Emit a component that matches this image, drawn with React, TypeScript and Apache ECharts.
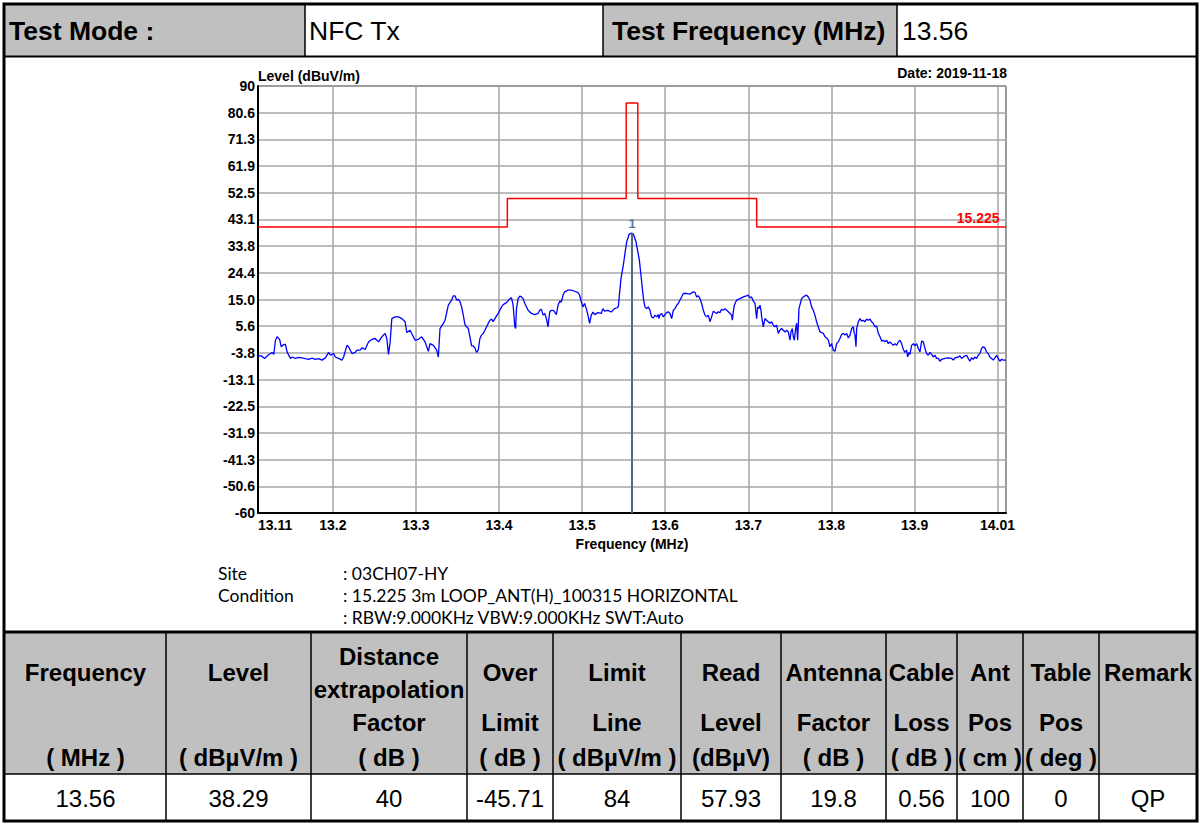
import React, { useEffect, useRef } from "react";
import * as echarts from "echarts";

// ---------- data ----------
const testModeLabel = "Test Mode :";
const testMode = "NFC Tx";
const testFreqLabel = "Test Frequency (MHz)";
const testFrequency = "13.56";
const chartDate = "Date: 2019-11-18";
const yAxisTitle = "Level (dBuV/m)";
const xAxisTitle = "Frequency (MHz)";
const limitName = "15.225";

const yTickValues = [-60, -50.625, -41.25, -31.875, -22.5, -13.125, -3.75, 5.625, 15, 24.375, 33.75, 43.125, 52.5, 61.875, 71.25, 80.625, 90];
const yTickLabels = ["-60", "-50.6", "-41.3", "-31.9", "-22.5", "-13.1", "-3.8", "5.6", "15.0", "24.4", "33.8", "43.1", "52.5", "61.9", "71.3", "80.6", "90"];
const xTickValues = [13.11, 13.2, 13.3, 13.4, 13.5, 13.6, 13.7, 13.8, 13.9, 14.0, 14.01];
const xLabelValues = [13.11, 13.2, 13.3, 13.4, 13.5, 13.6, 13.7, 13.8, 13.9, 14.01];

const limitFreqs = [13.11, 13.41, 13.41, 13.553, 13.553, 13.567, 13.567, 13.71, 13.71, 14.01];
const limitLevels = [40.5, 40.5, 50.5, 50.5, 84, 84, 50.5, 50.5, 40.5, 40.5];

const peakFreq = 13.56;
const peakLevel = 38.29;
const peakName = "1";

const trace: [number, number][] = [
  [13.110, -4.8], [13.114, -4.8], [13.118, -5.7], [13.122, -4.6], [13.127, -3.6], [13.129, -4.3], [13.131, 0.7], [13.133, 1.9],
  [13.136, 1.0], [13.138, -1.6], [13.141, -0.8], [13.143, -0.8], [13.145, -3.4], [13.149, -5.7], [13.151, -5.2], [13.155, -5.7],
  [13.159, -5.3], [13.163, -5.5], [13.167, -5.8], [13.171, -6.0], [13.175, -5.6], [13.179, -6.0], [13.183, -5.8], [13.187, -6.3],
  [13.191, -5.5], [13.195, -3.6], [13.197, -4.6], [13.201, -4.0], [13.203, -5.2], [13.207, -5.7], [13.211, -6.3], [13.213, -5.2],
  [13.217, -1.1], [13.219, -1.6], [13.223, -4.0], [13.227, -3.6], [13.229, -2.8], [13.233, -2.8], [13.235, -2.0], [13.239, -2.5],
  [13.243, 0.1], [13.247, 1.0], [13.251, 1.3], [13.255, 0.1], [13.259, 1.9], [13.263, 3.1], [13.265, 1.3], [13.267, -4.3],
  [13.269, 0.1], [13.271, 8.3], [13.275, 8.9], [13.279, 8.9], [13.283, 8.3], [13.287, 7.2], [13.289, 3.4], [13.293, 4.2],
  [13.299, 0.7], [13.303, 1.0], [13.307, 1.9], [13.311, 0.1], [13.315, -3.2], [13.317, -0.5], [13.321, -1.1], [13.325, -2.8],
  [13.327, -5.2], [13.329, 4.8], [13.333, 6.6], [13.335, 7.7],
  [13.339, 13.0], [13.343, 14.8], [13.345, 16.3], [13.347, 16.3], [13.349, 14.8], [13.351, 15.1], [13.353, 14.2], [13.355, 12.4],
  [13.357, 9.5], [13.359, 6.2], [13.361, 5.4], [13.363, 4.8], [13.365, 1.9], [13.367, -1.3], [13.369, -1.3], [13.371, -2.0],
  [13.373, -3.6], [13.375, -2.8], [13.377, 1.3], [13.379, 2.5], [13.381, 3.1], [13.383, 4.2], [13.387, 6.6], [13.389, 7.7],
  [13.391, 8.1], [13.393, 7.2], [13.395, 8.3], [13.399, 10.1], [13.403, 12.4], [13.405, 13.2], [13.409, 13.9], [13.413, 15.3],
  [13.415, 15.6], [13.417, 13.0], [13.419, 5.4], [13.420, 4.8], [13.421, 11.8], [13.423, 15.3], [13.425, 16.2], [13.427, 15.9],
  [13.429, 15.3], [13.431, 13.6], [13.435, 11.2], [13.439, 10.1], [13.443, 9.7], [13.447, 10.1], [13.449, 11.2], [13.451, 11.6],
  [13.453, 9.5], [13.455, 10.1], [13.457, 8.3], [13.459, 5.4], [13.460, 8.3], [13.461, 10.6], [13.463, 11.2], [13.465, 11.2],
  [13.467, 10.6], [13.469, 9.7], [13.471, 13.0], [13.473, 14.4], [13.475, 14.2], [13.477, 16.5], [13.479, 17.7], [13.483, 18.3],
  [13.487, 18.3], [13.491, 17.9], [13.495, 17.4], [13.497, 16.5], [13.499, 14.2], [13.501, 12.4], [13.503, 13.6], [13.505, 11.8],
  [13.507, 9.5], [13.509, 6.6], [13.511, 9.5], [13.513, 10.6], [13.515, 9.7], [13.519, 10.4], [13.523, 10.1], [13.525, 11.8],
  [13.527, 10.9], [13.531, 11.2], [13.535, 10.6], [13.539, 11.8], [13.542, 12.1], [13.5435, 12.4], [13.5456, 18.9], [13.5468, 22.4],
  [13.5495, 27.0], [13.5536, 35.3], [13.5567, 38.0], [13.56, 38.29], [13.5616, 38.0], [13.5648, 35.3], [13.5688, 28.9], [13.571, 23.0],
  [13.5724, 18.9], [13.574, 14.8], [13.5756, 12.4],
  [13.5776, 11.8], [13.5796, 12.4], [13.5816, 11.2], [13.5836, 8.9], [13.5857, 8.5], [13.5877, 9.5], [13.5897, 8.9], [13.5917, 9.7],
  [13.5925, 8.3], [13.5937, 9.7], [13.5957, 10.1], [13.5977, 8.9], [13.5997, 9.7], [13.6017, 10.4], [13.6037, 10.7], [13.6057, 10.1],
  [13.6077, 8.3], [13.6097, 11.2], [13.6117, 11.8], [13.6137, 13.0], [13.6157, 13.6], [13.6177, 14.8], [13.6197, 15.9], [13.6217, 17.1],
  [13.6258, 17.1], [13.6298, 16.9], [13.6338, 17.7], [13.6358, 17.5], [13.6378, 15.9], [13.6398, 16.3], [13.6418, 15.3], [13.6438, 13.6],
  [13.6458, 11.2], [13.6478, 9.5], [13.6498, 8.9], [13.6518, 9.5], [13.6538, 7.2], [13.6558, 8.9], [13.6578, 10.9], [13.6618, 10.1],
  [13.6638, 10.7], [13.6658, 10.4], [13.6678, 11.6], [13.6699, 11.2], [13.6719, 11.8], [13.6739, 11.2], [13.6759, 10.7], [13.6779, 10.1],
  [13.6799, 9.5], [13.6807, 7.7], [13.6819, 10.7], [13.6831, 13.0], [13.6859, 14.8], [13.6899, 15.3], [13.6939, 15.9], [13.6979, 16.3],
  [13.6999, 16.5], [13.7019, 15.6], [13.7039, 15.9], [13.706, 14.4], [13.708, 13.6], [13.71, 8.3], [13.7112, 12.4], [13.7128, 11.8],
  [13.714, 13.0], [13.7152, 11.2], [13.716, 8.9], [13.718, 5.4], [13.72, 8.3], [13.722, 7.7], [13.724, 7.2], [13.726, 6.6],
  [13.728, 7.2], [13.73, 6.0], [13.732, 5.4], [13.734, 6.0], [13.736, 3.1], [13.738, 4.2], [13.74, 4.8], [13.742, 4.2],
  [13.7441, 3.6], [13.7461, 4.2], [13.7481, 3.6], [13.7501, 0.7], [13.7513, 3.6], [13.7529, 4.8], [13.7541, 1.9], [13.7553, 0.7],
  [13.7569, 4.8], [13.7581, 6.6], [13.7593, 0.7], [13.7609, 11.8], [13.7641, 15.3], [13.7661, 15.9], [13.7681, 16.3], [13.7701, 16.5],
  [13.7721, 15.9], [13.7741, 14.8], [13.7761, 12.4], [13.7781, 11.2], [13.7801, 9.5], [13.7821, 7.2], [13.7841, 5.4], [13.7862, 3.6],
  [13.7882, 3.4], [13.7902, 3.1], [13.7922, 1.9],
  [13.7942, 1.5], [13.7962, 0.7], [13.7982, -1.6], [13.8002, -0.5], [13.8022, -2.8], [13.8042, -3.2], [13.8062, -0.5], [13.8082, 0.1],
  [13.8102, 1.3], [13.8122, 2.7], [13.8143, 3.1], [13.8163, 2.5], [13.8183, 3.1], [13.8203, 1.5], [13.8223, 2.5], [13.8243, 4.8],
  [13.8263, 5.4], [13.8275, 3.1], [13.8283, 2.5], [13.8295, -1.6], [13.8303, 4.8], [13.8323, 7.2], [13.8343, 8.3], [13.8363, 7.4],
  [13.8383, 7.7], [13.8403, 7.2], [13.8423, 8.1], [13.8443, 7.7], [13.8463, 8.1], [13.8483, 7.2], [13.8503, 6.6], [13.8523, 5.4],
  [13.8543, 5.7], [13.8564, 3.1], [13.8584, 1.9], [13.8604, 0.4], [13.8624, 0.7], [13.8644, 0.1], [13.8664, 0.7], [13.8684, -0.5],
  [13.8704, 0.1], [13.8724, -0.5], [13.8744, -1.1], [13.8764, -0.5], [13.8784, -1.1], [13.8804, 0.1], [13.8824, 0.7], [13.8844, -0.5],
  [13.8864, -2.5], [13.8884, -3.6], [13.8904, -2.8], [13.8916, -5.2], [13.8932, -3.6], [13.8944, -4.3], [13.8965, -1.1], [13.8985, -0.5],
  [13.9005, -1.3], [13.9025, -0.5], [13.9045, -2.2], [13.9065, -3.4], [13.9085, 0.4], [13.9105, 0.1], [13.9125, -2.2], [13.9145, -4.0],
  [13.9165, -4.6], [13.9185, -3.6], [13.9205, -4.3], [13.9225, -5.2], [13.9245, -4.6], [13.9265, -5.7], [13.9285, -5.7], [13.9305, -6.7],
  [13.9325, -6.0], [13.9366, -5.7], [13.9406, -5.5], [13.9446, -5.7], [13.9466, -6.3], [13.9486, -5.5], [13.9526, -5.2], [13.9546, -4.8],
  [13.9566, -5.7], [13.9586, -5.2], [13.9606, -4.8], [13.9626, -4.6], [13.9646, -5.7], [13.9666, -6.7], [13.9686, -5.5], [13.9706, -6.0],
  [13.9726, -5.2], [13.9746, -5.7], [13.9766, -4.6], [13.9786, -4.0], [13.9806, -2.2], [13.9826, -1.6], [13.9846, -2.0], [13.9866, -3.4],
  [13.9886, -4.0], [13.9906, -5.2], [13.9927, -5.7], [13.9947, -6.3], [13.9967, -5.5], [13.9987, -4.6], [14.0007, -5.7], [14.0027, -6.7],
  [14.0047, -6.0], [14.0067, -6.3], [14.0087, -6.3], [14.01, -6.3],
];

const siteLabels = ["Site", "Condition", ""];
const siteValues = [": 03CH07-HY", ": 15.225 3m LOOP_ANT(H)_100315 HORIZONTAL", ": RBW:9.000KHz VBW:9.000KHz SWT:Auto"];

const headerCols: string[][] = [
  ["Frequency", "", "( MHz )"],
  ["Level", "", "( dBµV/m )"],
  ["Distance\nextrapolation", "Factor", "( dB )"],
  ["Over", "Limit", "( dB )"],
  ["Limit", "Line", "( dBµV/m )"],
  ["Read", "Level", "(dBµV)"],
  ["Antenna", "Factor", "( dB )"],
  ["Cable", "Loss", "( dB )"],
  ["Ant", "Pos", "( cm )"],
  ["Table", "Pos", "( deg )"],
  ["Remark", "", ""],
];
const resultRow = ["13.56", "38.29", "40", "-45.71", "84", "57.93", "19.8", "0.56", "100", "0", "QP"];

// ---------- layout ----------
const ARIAL = '"Liberation Sans", Arial, sans-serif';
const GRAY = "#c0c0c0";
const colEdges = [5, 166, 311, 467, 553, 681, 781, 886, 957, 1023, 1099, 1197];
const topEdges = [5, 305, 603, 897, 1197];

function txt(x: number, y: number, text: string, size: number, bold: boolean, align = "left", family = ARIAL, fill = "#000", lineHeight?: number) {
  return {
    type: "text",
    x,
    y,
    silent: true,
    style: {
      text,
      fill,
      fontSize: size,
      fontWeight: bold ? "bold" : "normal",
      fontFamily: family,
      align,
      verticalAlign: "middle",
      lineHeight: lineHeight || size * 1.2,
    },
  };
}
function hline(x1: number, x2: number, y: number, w: number) {
  return { type: "line", silent: true, shape: { x1, y1: y, x2, y2: y }, style: { stroke: "#000", lineWidth: w } };
}
function vline(x: number, y1: number, y2: number, w: number) {
  return { type: "line", silent: true, shape: { x1: x, y1, x2: x, y2 }, style: { stroke: "#000", lineWidth: w } };
}
function box(x: number, y: number, w: number, h: number, fill: string) {
  return { type: "rect", silent: true, shape: { x, y, width: w, height: h }, style: { fill } };
}

function buildGraphics() {
  const g: any[] = [];
  g.push(box(topEdges[0], 5, topEdges[1] - topEdges[0], 51, GRAY));
  g.push(box(topEdges[2], 5, topEdges[3] - topEdges[2], 51, GRAY));
  g.push(box(5, 633, 1192, 141, GRAY));
  // top row text
  g.push(txt(9, 31, testModeLabel, 26.5, true));
  g.push(txt(309, 31, testMode, 26.5, false));
  g.push(txt(612, 31, testFreqLabel, 26.5, true));
  g.push(txt(902, 31, testFrequency, 26.5, false));
  // table header text
  headerCols.forEach((col, i) => {
    const cx = (colEdges[i] + colEdges[i + 1]) / 2;
    if (col[0]) g.push(txt(cx, 672.5, col[0], 24, true, "center", ARIAL, "#000", 33));
    if (col[1]) g.push(txt(cx, 722, col[1], 24, true, "center"));
    if (col[2]) g.push(txt(cx, 757, col[2], 24, true, "center"));
  });
  resultRow.forEach((v, i) => {
    const cx = (colEdges[i] + colEdges[i + 1]) / 2;
    g.push(txt(cx, 798, v, 24, false, "center"));
  });
  // site info
  const SITE_FONT = 'Lato, "Noto Sans", sans-serif';
  siteLabels.forEach((s, i) => {
    if (s) g.push(txt(218, 573 + i * 22, s, 17.5, false, "left", SITE_FONT));
  });
  siteValues.forEach((s, i) => {
    g.push(txt(343, 573 + i * 22, s, 17.5, false, "left", SITE_FONT));
  });
  // date
  g.push(txt(1007, 72.5, chartDate, 14, true, "right"));
  // borders
  g.push({ type: "rect", silent: true, shape: { x: 4, y: 4, width: 1193, height: 817 }, style: { fill: "none", stroke: "#000", lineWidth: 3 } });
  g.push(hline(4, 1197, 56.5, 2));
  g.push(hline(4, 1197, 632, 3));
  g.push(hline(4, 1197, 774, 1.5));
  topEdges.slice(1, -1).forEach((x) => g.push(vline(x, 4, 57, 1.5)));
  colEdges.slice(1, -1).forEach((x) => g.push(vline(x, 632, 821, 1.5)));
  return g;
}

function fmtX(v: number) {
  return String(parseFloat(v.toFixed(2)));
}
function fmtY(v: number) {
  let best = 0;
  for (let i = 0; i < yTickValues.length; i++) {
    if (Math.abs(yTickValues[i] - v) < Math.abs(yTickValues[best] - v)) best = i;
  }
  return yTickLabels[best];
}

export default function App() {
  const ref = useRef<HTMLDivElement>(null);
  useEffect(() => {
    const chart = echarts.init(ref.current!, null, { renderer: "svg" });
    const labelFont = { fontFamily: ARIAL, fontWeight: "bold" as const, fontSize: 14, color: "#000" };
    const xMax = xLabelValues[xLabelValues.length - 1];
    chart.setOption({
      animation: false,
      backgroundColor: "#fff",
      grid: { left: 258, right: 194, top: 86, bottom: 310, show: true, borderColor: "#000", borderWidth: 1 },
      xAxis: {
        type: "value",
        min: 13.11,
        max: 14.01,
        name: xAxisTitle,
        nameLocation: "middle",
        nameGap: 28,
        nameTextStyle: { ...labelFont, verticalAlign: "middle" },
        axisLine: { onZero: false, lineStyle: { color: "#000", width: 2 } },
        axisTick: { show: false, customValues: xTickValues },
        splitLine: { show: true, lineStyle: { color: "#a6a6a6", width: 1.5 } },
        axisLabel: {
          ...labelFont,
          margin: 5,
          customValues: xLabelValues,
          alignMinLabel: "left",
          formatter: (v: number) => (Math.abs(v - xMax) < 1e-6 ? "{m|" + fmtX(v) + "}" : fmtX(v)),
          rich: { m: { ...labelFont, padding: [0, 17, 0, 0] } },
        },
      },
      yAxis: {
        type: "value",
        min: -60,
        max: 90,
        name: yAxisTitle,
        nameLocation: "end",
        nameGap: 3,
        nameMoveOverlap: false,
        nameTextStyle: { ...labelFont, align: "left", verticalAlign: "bottom" },
        axisLine: { show: true, onZero: false, lineStyle: { color: "#000", width: 2 } },
        axisTick: { show: false, customValues: yTickValues },
        splitLine: { show: true, lineStyle: { color: "#a6a6a6", width: 1.5 } },
        axisLabel: { ...labelFont, margin: 3, customValues: yTickValues, formatter: fmtY },
      },
      graphic: { elements: buildGraphics() },
      series: [
        {
          name: "Limit",
          type: "line",
          data: limitFreqs.map((f, i) => [f, limitLevels[i]]),
          showSymbol: false,
          lineStyle: { color: "#ff0000", width: 1.5 },
          z: 3,
          markPoint: {
            symbol: "circle",
            symbolSize: 1,
            itemStyle: { color: "rgba(0,0,0,0)" },
            label: { show: true, position: "left", distance: 6, offset: [0, -9], formatter: limitName, ...labelFont, color: "#ff0000" },
            data: [{ coord: [limitFreqs[limitFreqs.length - 1], limitLevels[limitLevels.length - 1]] }],
          },
        },
        {
          name: "Level",
          type: "line",
          data: trace,
          showSymbol: false,
          lineStyle: { color: "#0000ff", width: 1.3 },
          z: 4,
          markLine: {
            symbol: "none",
            silent: true,
            label: { show: false },
            lineStyle: { color: "#4b6b8b", width: 2, type: "solid" },
            data: [[{ coord: [peakFreq, peakLevel] }, { coord: [peakFreq, -60] }]],
          },
          markPoint: {
            symbol: "circle",
            symbolSize: 1,
            itemStyle: { color: "rgba(0,0,0,0)" },
            label: { show: true, position: "top", distance: 3, formatter: peakName, ...labelFont, fontSize: 13, color: "#5b7a99" },
            data: [{ coord: [peakFreq, peakLevel] }],
          },
        },
      ],
    });
    return () => chart.dispose();
  }, []);
  return <div ref={ref} style={{ position: "fixed", left: 0, top: 0, width: 1200, height: 823, background: "#fff" }} />;
}
